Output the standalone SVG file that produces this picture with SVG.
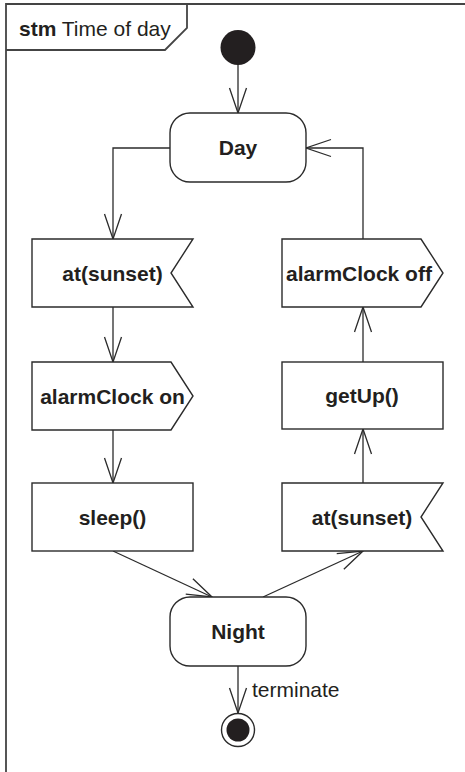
<svg xmlns="http://www.w3.org/2000/svg" width="465" height="772" viewBox="0 0 465 772">
<defs>
<style>
.frame{fill:none;stroke:#444;stroke-width:1.8}
.node{fill:#fff;stroke:#2b2b2b;stroke-width:1.4}
.conn{fill:none;stroke:#2b2b2b;stroke-width:1.3}
.lbl{font-family:"Liberation Sans",Arial,Helvetica,sans-serif;font-size:21px;font-weight:bold;fill:#231f20;text-anchor:middle}
.reg{font-family:"Liberation Sans",Arial,Helvetica,sans-serif;font-size:21px;fill:#231f20}
.dot{fill:#231f20}
</style>
<marker id="arr" viewBox="-27 -10 29 20" refX="0" refY="0" markerWidth="29" markerHeight="20" markerUnits="userSpaceOnUse" orient="auto" overflow="visible">
<path d="M-25,-8.5 L0,0 L-25,8.5" fill="none" stroke="#2b2b2b" stroke-width="1.3"/>
</marker>
</defs>
<rect width="465" height="772" fill="#fff"/>
<g id="frame">
<path class="frame" d="M6,780 L6,4 L470,4"/>
<path class="frame" d="M6,50 L165,50 L187,28 L187,4"/>
<text class="reg" x="19" y="36"><tspan font-weight="bold">stm</tspan> Time of day</text>
</g>
<g id="connectors">
<path class="conn" d="M238,64 L238,113" marker-end="url(#arr)"/>
<path class="conn" d="M170,148 L113,148 L113,239" marker-end="url(#arr)"/>
<path class="conn" d="M113,307 L113,362" marker-end="url(#arr)"/>
<path class="conn" d="M113,430 L113,483" marker-end="url(#arr)"/>
<path class="conn" d="M113,551 L212,597" marker-end="url(#arr)"/>
<path class="conn" d="M263,597 L363,551" marker-end="url(#arr)"/>
<path class="conn" d="M363,483 L363,429" marker-end="url(#arr)"/>
<path class="conn" d="M363,362 L363,307" marker-end="url(#arr)"/>
<path class="conn" d="M363,239 L363,148 L306,148" marker-end="url(#arr)"/>
<path class="conn" d="M238,666 L238,713" marker-end="url(#arr)"/>
<text class="reg" x="252" y="697">terminate</text>
</g>
<g id="initial">
<circle class="dot" cx="238" cy="47.5" r="17.5"/>
</g>
<g id="day">
<rect class="node" x="170" y="113" width="136" height="69" rx="20" ry="20"/>
<text class="lbl" x="238" y="155">Day</text>
</g>
<g id="atSunset1">
<path class="node" d="M32,239 L193,239 L171,273 L193,307 L32,307 Z"/>
<text class="lbl" x="112.5" y="280.5">at(sunset)</text>
</g>
<g id="alarmOn">
<path class="node" d="M32,362 L171,362 L193,396 L171,430 L32,430 Z"/>
<text class="lbl" x="112.5" y="403.5">alarmClock on</text>
</g>
<g id="sleep">
<rect class="node" x="32" y="483" width="161" height="68"/>
<text class="lbl" x="112.5" y="524.5">sleep()</text>
</g>
<g id="atSunset2">
<path class="node" d="M282,483 L443,483 L421,517 L443,551 L282,551 Z"/>
<text class="lbl" x="362" y="524.5">at(sunset)</text>
</g>
<g id="getUp">
<rect class="node" x="282" y="362" width="161" height="67"/>
<text class="lbl" x="362" y="403">getUp()</text>
</g>
<g id="alarmOff">
<path class="node" d="M282,239 L421,239 L443,273 L421,307 L282,307 Z"/>
<text class="lbl" x="359" y="280.5">alarmClock off</text>
</g>
<g id="night">
<rect class="node" x="170" y="597" width="136" height="69" rx="20" ry="20"/>
<text class="lbl" x="238" y="639">Night</text>
</g>
<g id="final">
<circle cx="238" cy="730" r="16.5" fill="#fff" stroke="#2b2b2b" stroke-width="1.4"/>
<circle class="dot" cx="238" cy="730" r="11.5"/>
</g>
</svg>
